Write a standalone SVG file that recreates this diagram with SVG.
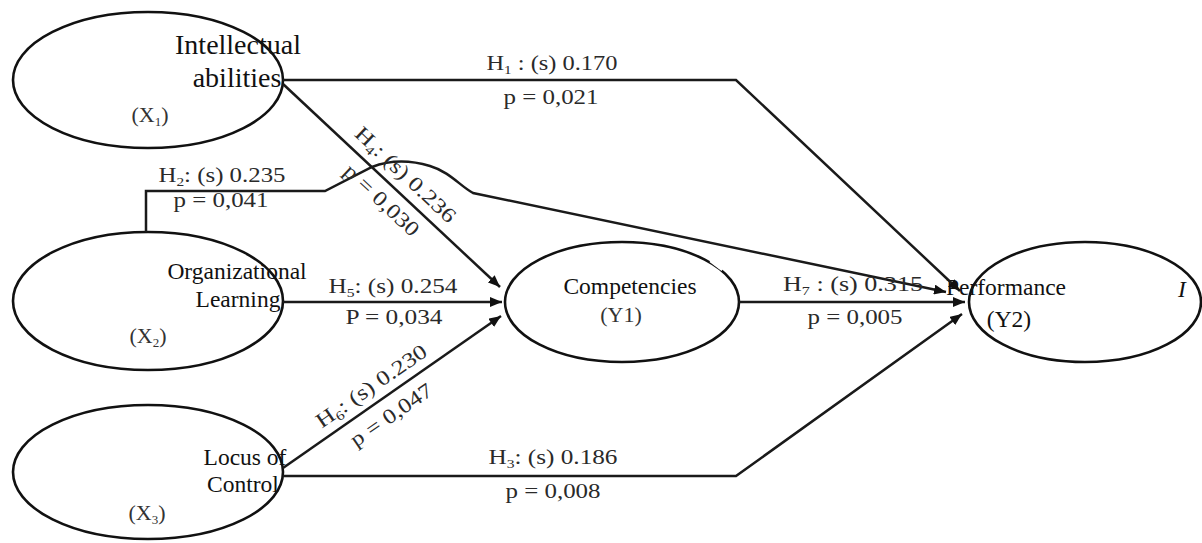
<svg xmlns="http://www.w3.org/2000/svg" width="1202" height="543" viewBox="0 0 1202 543">
<style>
.node{fill:none;stroke:#111;stroke-width:2.6}
.nt{font-family:'Liberation Serif',serif;font-size:23.5px;fill:#111;text-anchor:middle}
.big{font-size:28px}
.var{font-family:'Liberation Serif',serif;font-size:22px;fill:#333;text-anchor:middle}
.lbl{font-family:'Liberation Serif',serif;font-size:21px;fill:#2a2a2a;text-anchor:middle}
.sub{font-size:13px}
.conn{fill:none;stroke:#1a1a1a;stroke-width:2.5;stroke-linejoin:miter}
</style>
<defs>
<marker id="arr" markerUnits="userSpaceOnUse" markerWidth="13" markerHeight="10" refX="12" refY="5" orient="auto">
<path d="M0,0 L12,5 L0,10 z" fill="#111"/>
</marker>
</defs>
<rect width="1202" height="543" fill="#fff"/>

<g id="node-x1">
<ellipse class="node" cx="148" cy="80" rx="135" ry="68"/>
<text class="nt big" x="238" y="54">Intellectual</text>
<text class="nt big" x="237" y="87">abilities</text>
<text class="var" x="150" y="122">(X<tspan class="sub" dy="4">1</tspan><tspan dy="-4">)</tspan></text>
</g>
<g id="node-x2">
<ellipse class="node" cx="148" cy="301" rx="135" ry="69"/>
<text class="nt" x="237" y="279">Organizational</text>
<text class="nt" x="238" y="307">Learning</text>
<text class="var" x="148" y="343">(X<tspan class="sub" dy="4">2</tspan><tspan dy="-4">)</tspan></text>
</g>
<g id="node-x3">
<ellipse class="node" cx="148" cy="472" rx="135" ry="67"/>
<text class="nt" x="245" y="465">Locus of</text>
<text class="nt" x="243" y="492">Control</text>
<text class="var" x="147" y="520">(X<tspan class="sub" dy="4">3</tspan><tspan dy="-4">)</tspan></text>
</g>
<g id="node-y1">
<ellipse class="node" cx="622" cy="302" rx="117" ry="60"/>
<path d="M711,260 L723,269" stroke="#fff" stroke-width="5"/>
<text class="nt" x="630" y="294">Competencies</text>
<text class="var" x="621" y="322">(Y1)</text>
</g>
<g id="node-y2">
<ellipse class="node" cx="1085" cy="302" rx="116" ry="60"/>
<text class="nt" x="1006" y="295">Performance</text>
<text class="nt" x="1009" y="327">(Y2)</text>
<text class="nt" x="1182" y="297" font-style="italic" font-size="20">I</text>
</g>

<g id="connectors">
<path class="conn" d="M283,80 L736,80 L960,291" marker-end="url(#arr)"/>
<path class="conn" d="M283,84 L500,287" marker-end="url(#arr)"/>
<path class="conn" d="M283,302 L502,302" marker-end="url(#arr)"/>
<path class="conn" d="M283,468 L501,316" marker-end="url(#arr)"/>
<path class="conn" d="M283,476 L736,476 L962,314" marker-end="url(#arr)"/>
<path class="conn" d="M739,302 L965,302" marker-end="url(#arr)"/>
<path class="conn" d="M146,232 L146,191 L325,191 L372,167 C390,160 410,160 430,166 C450,172 460,186 473,193 L946,292" marker-end="url(#arr)"/>
</g>

<g id="edge-labels">
<text class="lbl" x="552" y="70" textLength="131" lengthAdjust="spacingAndGlyphs">H<tspan class="sub" dy="4">1</tspan><tspan dy="-4"> : (s) 0.170</tspan></text>
<text class="lbl" x="551" y="104" textLength="95" lengthAdjust="spacingAndGlyphs">p = 0,021</text>
<text class="lbl" x="222" y="182" textLength="127" lengthAdjust="spacingAndGlyphs">H<tspan class="sub" dy="4">2</tspan><tspan dy="-4">: (s) 0.235</tspan></text>
<text class="lbl" x="221" y="207" textLength="95" lengthAdjust="spacingAndGlyphs">p = 0,041</text>
<g transform="translate(394,187) rotate(43.2)">
<text class="lbl" x="0" y="-10" textLength="130" lengthAdjust="spacingAndGlyphs">H<tspan class="sub" dy="4">4</tspan><tspan dy="-4">: (s) 0.236</tspan></text>
<text class="lbl" x="0" y="25" textLength="95" lengthAdjust="spacingAndGlyphs">p = 0,030</text>
</g>
<text class="lbl" x="393" y="293" textLength="129" lengthAdjust="spacingAndGlyphs">H<tspan class="sub" dy="4">5</tspan><tspan dy="-4">: (s) 0.254</tspan></text>
<text class="lbl" x="394" y="324" textLength="97" lengthAdjust="spacingAndGlyphs">P = 0,034</text>
<g transform="translate(381,400) rotate(-34.6)">
<text class="lbl" x="0" y="-10" textLength="130" lengthAdjust="spacingAndGlyphs">H<tspan class="sub" dy="4">6</tspan><tspan dy="-4">: (s) 0.230</tspan></text>
<text class="lbl" x="0" y="25" textLength="95" lengthAdjust="spacingAndGlyphs">p = 0,047</text>
</g>
<text class="lbl" x="553" y="464" textLength="129" lengthAdjust="spacingAndGlyphs">H<tspan class="sub" dy="4">3</tspan><tspan dy="-4">: (s) 0.186</tspan></text>
<text class="lbl" x="553" y="498" textLength="95" lengthAdjust="spacingAndGlyphs">p = 0,008</text>
<text class="lbl" x="853" y="291" textLength="140" lengthAdjust="spacingAndGlyphs">H<tspan class="sub" dy="4">7</tspan><tspan dy="-4"> :  (s) 0.315</tspan></text>
<text class="lbl" x="855" y="324" textLength="95" lengthAdjust="spacingAndGlyphs">p = 0,005</text>
</g>
</svg>
